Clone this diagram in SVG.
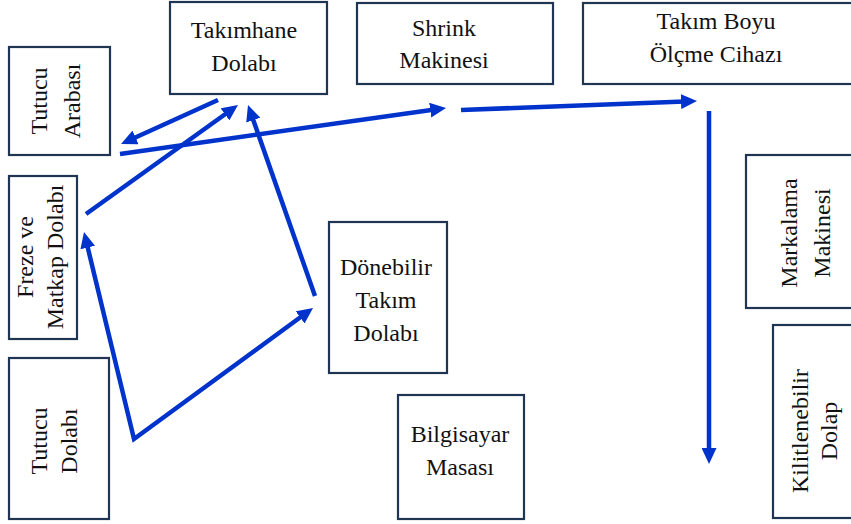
<svg xmlns="http://www.w3.org/2000/svg" width="851" height="524" viewBox="0 0 851 524">
<style>
.box{fill:#fff;stroke:#1f3552;stroke-width:2.2}
.t{font-family:'Liberation Serif','Times New Roman',serif;font-size:24px;fill:#111;text-anchor:middle}
.c{fill:none;stroke:#0033cc;stroke-width:4.5;stroke-linejoin:miter}
</style>
<defs>
<marker id="ah" markerUnits="userSpaceOnUse" markerWidth="16" markerHeight="15" refX="10" refY="7.5" orient="auto-start-reverse">
<path d="M0,0 L16,7.5 L0,15 z" fill="#0033cc"/>
</marker>
</defs>
<rect width="851" height="524" fill="#fff"/>
<g id="tutucu-arabasi"><rect class="box" x="9" y="47" width="101" height="108"/>
<text class="t" transform="translate(47,101) rotate(-90)">Tutucu</text>
<text class="t" transform="translate(80,101) rotate(-90)">Arabası</text></g>
<g id="takimhane"><rect class="box" x="170" y="2" width="157" height="92"/>
<text class="t" x="244" y="38">Takımhane</text><text class="t" x="244" y="71">Dolabı</text></g>
<g id="shrink"><rect class="box" x="357" y="3" width="196" height="81"/>
<text class="t" x="444" y="36">Shrink</text><text class="t" x="444" y="68">Makinesi</text></g>
<g id="takim-boyu"><rect class="box" x="583" y="3" width="280" height="81"/>
<text class="t" x="716" y="29">Takım Boyu</text><text class="t" x="716" y="62">Ölçme Cihazı</text></g>
<g id="freze"><rect class="box" x="9" y="176" width="68" height="163"/>
<text class="t" transform="translate(33,257) rotate(-90)">Freze ve</text>
<text class="t" transform="translate(63,257) rotate(-90)">Matkap Dolabı</text></g>
<g id="tutucu-dolabi"><rect class="box" x="9" y="358" width="100" height="161"/>
<text class="t" transform="translate(47,441) rotate(-90)">Tutucu</text>
<text class="t" transform="translate(77,441) rotate(-90)">Dolabı</text></g>
<g id="donebilir"><rect class="box" x="329" y="222" width="118" height="151"/>
<text class="t" x="386" y="275">Dönebilir</text><text class="t" x="386" y="308">Takım</text><text class="t" x="386" y="341">Dolabı</text></g>
<g id="bilgisayar"><rect class="box" x="398" y="395" width="126" height="124"/>
<text class="t" x="460" y="442">Bilgisayar</text><text class="t" x="460" y="475">Masası</text></g>
<g id="markalama"><rect class="box" x="746" y="155" width="120" height="153"/>
<text class="t" transform="translate(797,233) rotate(-90)">Markalama</text>
<text class="t" transform="translate(830,233) rotate(-90)">Makinesi</text></g>
<g id="kilitlenebilir"><rect class="box" x="773" y="325" width="100" height="193"/>
<text class="t" transform="translate(808,431) rotate(-90)">Kilitlenebilir</text>
<text class="t" transform="translate(837,431) rotate(-90)">Dolap</text></g>
<g id="connectors">
<path class="c" d="M218,100 L126.5,141.5" marker-end="url(#ah)"/>
<path class="c" d="M86,214 L233.1,108.5" marker-end="url(#ah)"/>
<path class="c" d="M315,296 L250,110.7" marker-end="url(#ah)"/>
<path class="c" d="M85.4,237.8 L134,439 L308.2,311.5" marker-start="url(#ah)" marker-end="url(#ah)"/>
<path class="c" d="M120,154 L440.1,108.8" marker-end="url(#ah)"/>
<path class="c" d="M461,110 L691,101.2" marker-end="url(#ah)"/>
<path class="c" d="M709,111 L709,458" marker-end="url(#ah)"/>
</g>
</svg>
